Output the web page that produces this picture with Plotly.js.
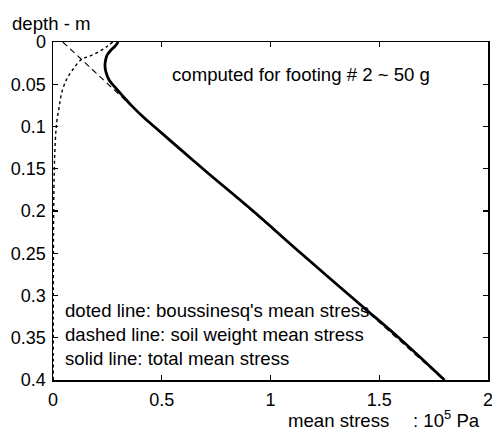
<!DOCTYPE html>
<html>
<head>
<meta charset="utf-8">
<script src="https://cdn.plot.ly/plotly-3.0.1.min.js"></script>
<style>html,body{margin:0;padding:0;background:#fff;}#chart{width:492px;height:433px;}</style>
</head>
<body>
<div id="chart"></div>
<script>
// Boussinesq's mean stress (dotted)
var dottedDepth = [0, 0.005, 0.0107, 0.0166, 0.0205, 0.032, 0.044, 0.06, 0.076, 0.0955, 0.12, 0.15, 0.2, 0.3, 0.4];
var dottedStress = [0.275, 0.25, 0.216, 0.17, 0.132, 0.093, 0.063, 0.040, 0.029, 0.017, 0.010, 0.006, 0.003, 0.0015, 0.001];
// Soil weight mean stress (dashed)
var dashedDepth = [0, 0.1, 0.2, 0.3, 0.4];
var dashedStress = [0.045, 0.462, 0.915, 1.362, 1.797];
// Total mean stress (solid)
var solidDepth = [0, 0.005, 0.01, 0.015, 0.02, 0.028, 0.035, 0.045, 0.055, 0.065, 0.075, 0.09, 0.1, 0.128, 0.155, 0.2, 0.25, 0.313, 0.35, 0.4];
var solidStress = [0.30, 0.285, 0.265, 0.25, 0.243, 0.239, 0.243, 0.258, 0.29, 0.325, 0.36, 0.42, 0.465, 0.59, 0.712, 0.92, 1.14, 1.423, 1.59, 1.80];

var xTicks = [0, 0.5, 1, 1.5, 2];
var xTickText = ['0', '0.5', '1', '1.5', '2'];
var yTicks = [0, 0.05, 0.1, 0.15, 0.2, 0.25, 0.3, 0.35, 0.4];
var yTickText = ['0', '0.05', '0.1', '0.15', '0.2', '0.25', '0.3', '0.35', '0.4'];

var FONT = 'Liberation Sans, Arial, Helvetica, sans-serif';
var TXT = 18.6;

var traces = [
  {x: dottedStress, y: dottedDepth, mode: 'lines', line: {color: '#000', width: 1.4, dash: 'dot', shape: 'spline'}, hoverinfo: 'skip'},
  {x: dashedStress, y: dashedDepth, mode: 'lines', line: {color: '#000', width: 1.1, dash: '6px,4px'}, hoverinfo: 'skip'},
  {x: solidStress, y: solidDepth, mode: 'lines', line: {color: '#000', width: 2.8, shape: 'spline'}, hoverinfo: 'skip'}
];

var axisCommon = {
  showgrid: false, zeroline: false, showline: true, linecolor: '#000', linewidth: 1.5,
  mirror: 'ticks', ticks: 'inside', ticklen: 5, tickwidth: 1.2, tickcolor: '#000',
  tickfont: {family: FONT, size: 18, color: '#000'}, tickmode: 'array', ticklabeloverflow: 'allow'
};

var layout = {
  width: 492, height: 433,
  margin: {l: 53, r: 4, t: 42, b: 53},
  paper_bgcolor: '#fff', plot_bgcolor: '#fff',
  showlegend: false,
  font: {family: FONT, size: TXT, color: '#000'},
  xaxis: Object.assign({}, axisCommon, {range: [0, 2], tickvals: xTicks, ticktext: xTickText, ticklabelstandoff: 3}),
  yaxis: Object.assign({}, axisCommon, {range: [0.4, 0], tickvals: yTicks, ticktext: yTickText, ticklabelstandoff: 2}),
  annotations: [
    {text: 'depth - m', xref: 'paper', yref: 'paper', x: -0.0986, y: 1.056, xanchor: 'left', yanchor: 'middle', showarrow: false, font: {family: FONT, size: TXT}},
    {text: 'computed for footing # 2 ~ 50 g', xref: 'paper', yref: 'paper', x: 0.27, y: 0.905, xanchor: 'left', yanchor: 'middle', showarrow: false, font: {family: FONT, size: TXT}},
    {text: "doted line: boussinesq's mean stress<br>dashed line: soil weight mean stress<br>solid line: total mean stress", xref: 'paper', yref: 'paper', x: 0.024, y: 0.136, xanchor: 'left', yanchor: 'middle', align: 'left', showarrow: false, font: {family: FONT, size: TXT}},
    {text: 'mean stress', xref: 'paper', yref: 'paper', x: 0.535, y: -0.157, xanchor: 'left', yanchor: 'bottom', showarrow: false, font: {family: FONT, size: TXT}},
    {text: ': 10<sup>5</sup> Pa', xref: 'paper', yref: 'paper', x: 0.823, y: -0.157, xanchor: 'left', yanchor: 'bottom', showarrow: false, font: {family: FONT, size: TXT}}
  ]
};

Plotly.newPlot('chart', traces, layout, {displayModeBar: false, staticPlot: true});
</script>
</body>
</html>
